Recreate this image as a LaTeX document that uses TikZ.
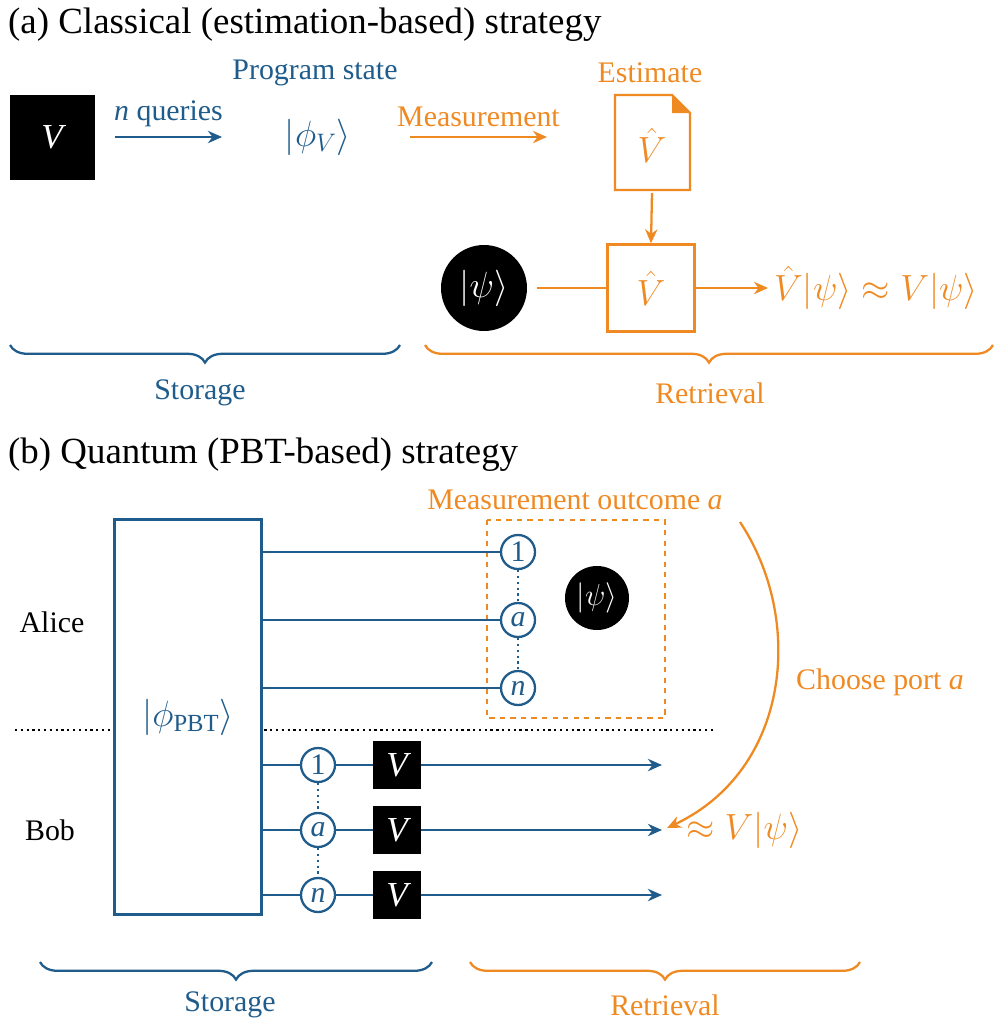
\documentclass[tikz,border=0pt]{standalone}
\usepackage{fontspec}
\setmainfont{Liberation Serif}
\usepackage{amsmath}
\usetikzlibrary{arrows.meta,decorations.pathreplacing,positioning,calc}
\definecolor{qblue}{HTML}{1F5C8B}
\definecolor{qorange}{HTML}{EF8A23}
\tikzset{
  lbl/.style={font=\fontsize{17}{20}\selectfont},
  oracle/.style={fill=black,text=white,minimum size=#1,inner sep=0pt,font=\fontsize{20}{24}\selectfont\itshape},
  port/.style={circle,draw=qblue,line width=1.3pt,fill=white,minimum size=34*0.02cm,inner sep=0pt,text=qblue,font=\fontsize{17}{20}\selectfont},
  wire/.style={line width=1.3pt},
  arr/.style={-{Stealth[length=8pt,width=7pt]},line width=1.3pt},
  brc/.style={decorate,decoration={brace,mirror,amplitude=10pt},line width=1.3pt},
}
\begin{document}
\begin{tikzpicture}[x=0.02cm,y=-0.02cm]
    \useasboundingbox (0,0) rectangle (996,1029);

    % (a) classical
    \node[anchor=west,font=\fontsize{21}{25}\selectfont] (ta) at (2,25) {(a) Classical (estimation-based) strategy};
    \node[oracle=85*0.02cm] (V) at (52,137) {V};
    \coordinate (q1) at (115,137);
    \coordinate (q2) at (222,137);
    \draw[arr,qblue] (q1) -- (q2) node[midway,above=2pt,lbl] {\textit{n} queries};
    \node[lbl,qblue] (ps) at (315,73) {Program state};
    \node[qblue,font=\fontsize{22}{26}\selectfont] (phiV) at (318,137) {$|\phi_V\rangle$};
    \coordinate (m1) at (410,137);
    \coordinate (m2) at (547,137);
    \draw[arr,qorange] (m1) -- (m2) node[midway,above=2pt,lbl] {Measurement};
    \node[lbl,qorange] (est) at (650,73) {Estimate};
    \draw[qorange,wire] (615,95) -- (672,95) -- (690,113) -- (690,190) -- (615,190) -- cycle;
    \fill[qorange] (672,95) -- (690,113) -- (672,113) -- cycle;
    \node[qorange,font=\fontsize{22}{26}\selectfont] (doc) at (652,145) {$\hat{V}$};
    \node[draw=qorange,wire,minimum size=87*0.02cm,text=qorange,font=\fontsize{22}{26}\selectfont] (Vh) at (651,288) {$\hat{V}$};
    \coordinate (docb) at (652,193);
    \draw[arr,qorange] (docb) -- (Vh.north);
    \node[circle,fill=black,text=white,minimum size=86*0.02cm,inner sep=0pt,font=\fontsize{22}{26}\selectfont] (psi) at (484,288) {$|\psi\rangle$};
    \draw[qorange,wire] ([xshift=10*0.02cm]psi.east) -- (Vh.west);
    \node[anchor=west,qorange,font=\fontsize{22}{26}\selectfont] (out) at (768,288) {$\hat{V}|\psi\rangle\approx V|\psi\rangle$};
    \draw[arr,qorange] (Vh.east) -- (out.west);
    \draw[brc,qblue] (10,345) -- (400,345);
    \node[lbl,qblue] (st1) at (200,393) {Storage};
    \draw[brc,qorange] (425,345) -- (993,345);
    \node[lbl,qorange] (re1) at (710,393) {Retrieval};

    % (b) quantum
    \node[anchor=west,font=\fontsize{21}{25}\selectfont] (tb) at (2,455) {(b) Quantum (PBT-based) strategy};
    \draw[wire,dotted] (15,730) -- (715,730);
    \node[draw=qblue,wire,fill=white,minimum width=147*0.02cm,minimum height=395*0.02cm,text=qblue,font=\fontsize{20}{24}\selectfont] (pbt) at (188,717) {$|\phi_{\mathrm{PBT}}\rangle$};
    \draw[qorange,wire,dashed] (487,520) rectangle (665,718);
    \node[lbl,qorange] (mo) at (575,500) {Measurement outcome \textit{a}};
    \node[port] (a1) at (518,552) {1};
    \node[port] (aa) at (518,620) {\textit{a}};
    \node[port] (an) at (518,688) {\textit{n}};
    \foreach \c/\y in {a1/552,aa/620,an/688}
      \draw[qblue,wire] (262,\y) -- (\c.west);
    \draw[qblue,wire,dotted] (a1) -- (aa) (aa) -- (an);
    \node[circle,fill=black,text=white,minimum size=64*0.02cm,inner sep=0pt,font=\fontsize{17}{20}\selectfont] (psib) at (597,598) {$|\psi\rangle$};
    \node[lbl] (alice) at (52,622) {Alice};
    \node[lbl] (bob) at (50,830) {Bob};
    \foreach \n/\t/\y in {b1/1/765,ba/\textit{a}/830,bn/\textit{n}/895}{
      \node[port] (\n) at (318,\y) {\t};
      \node[oracle=48*0.02cm] (V\n) at (397,\y) {V};
      \coordinate (e\n) at (662,\y);
      \draw[qblue,wire] (262,\y) -- (\n.west) (\n.east) -- (V\n.west);
      \draw[arr,qblue] (V\n.east) -- (e\n);
    }
    \draw[qblue,wire,dotted] (b1) -- (ba) (ba) -- (bn);
    \node[anchor=west,qorange,font=\fontsize{22}{26}\selectfont] (res) at (680,830) {$\approx V|\psi\rangle$};
    \coordinate (cs) at (740,522);
    \coordinate (ce) at (667,828);
    \draw[arr,qorange] (cs) .. controls (805,620) and (790,770) .. (ce);
    \node[lbl,qorange] (cp) at (880,682) {Choose port \textit{a}};
    \draw[brc,qblue] (40,962) -- (432,962);
    \node[lbl,qblue] (st2) at (230,1005) {Storage};
    \draw[brc,qorange] (470,962) -- (860,962);
    \node[lbl,qorange] (re2) at (665,1005) {Retrieval};
\end{tikzpicture}
\end{document}
